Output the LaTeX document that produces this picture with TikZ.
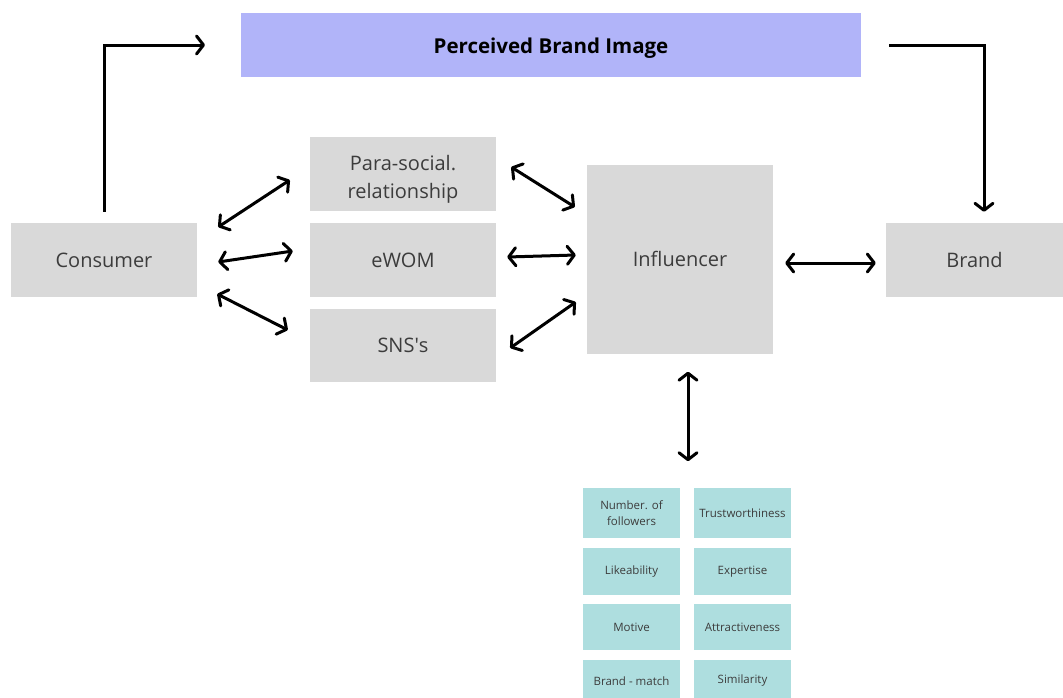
\documentclass[tikz,border=0pt]{standalone}
\usepackage{fontspec}
\setmainfont{Open Sans}
\usetikzlibrary{arrows.meta,calc}
\definecolor{boxgray}{HTML}{D9D9D9}
\definecolor{imagebar}{HTML}{B1B4F9}
\definecolor{attrteal}{HTML}{AEDEDF}
\definecolor{labelgray}{HTML}{3C3C3C}
\tikzset{
  greybox/.style={fill=boxgray, minimum width=186pt, minimum height=74pt, inner sep=0pt,
    align=center, text=labelgray, font=\fontsize{20}{28}\selectfont,
    text height=14pt, text depth=0pt},
  greytext/.style={inner sep=0pt, align=center, text=labelgray, font=\fontsize{20}{28}\selectfont},
  attrbox/.style={fill=attrteal, minimum width=97pt, inner sep=0pt,
    align=center, text=labelgray, font=\fontsize{11.5}{16}\selectfont},
  link/.style={line width=3pt, line cap=round, line join=round,
    arrows={Straight Barb[length=7pt,width=18pt,round]-Straight Barb[length=7pt,width=18pt,round]}},
  onelink/.style={line width=3pt, line join=miter,
    -{Straight Barb[length=7pt,width=18pt,round]}}
}
\begin{document}
\begin{tikzpicture}[x=1pt,y=-1pt]
\useasboundingbox (0,0) rectangle (1063,697);
\clip (0,0) rectangle (1063,697);
\fill[white] (0,0) rectangle (1063,697);

% header bar
\fill[imagebar] (241,13) rectangle (861,77);
\node[inner sep=0pt, font=\fontsize{20.5}{24}\selectfont\bfseries] (pbi) at (551,48)
  {Perceived Brand Image};

% main boxes
\node[greybox] (con) at (104,260) {Consumer};
\node[greybox] (para) at (403,174) {};
\node[greytext] (paratext) at (403,179) {Para-social.\\relationship};
\node[greybox] (ewom) at (403,260) {eWOM};
\node[greybox, minimum height=73pt] (sns) at (403,345.5) {SNS\textquotesingle s};
\node[greybox, minimum height=189pt] (inf) at (680,259.5) {Influencer};
\node[greybox, minimum width=177pt] (brand) at (974.5,260) {Brand};

% influencer attributes
\node[attrbox, minimum height=50pt] (a1) at (631.5,513) {Number. of\\followers};
\node[attrbox, minimum height=50pt] (b1) at (742.5,513) {Trustworthiness};
\node[attrbox, minimum height=47pt] (a2) at (631.5,571.5) {Likeability};
\node[attrbox, minimum height=47pt] (b2) at (742.5,571.5) {Expertise};
\node[attrbox, minimum height=46pt] (a3) at (631.5,627) {Motive};
\node[attrbox, minimum height=46pt] (b3) at (742.5,627) {Attractiveness};
\node[attrbox, minimum height=42pt] (a4) at (631.5,681) {Brand - match};
\node[attrbox, minimum height=42pt] (b4) at (742.5,681) {Similarity};

% connectors
\draw[onelink] ($(con.north)+(0,-11)$) |- (205,45);
\draw[onelink] (889,45) -| ($(brand.north)+(9.5,-11)$);

\draw[link] ($(con.east)+(21,-33)$) -- ($(para.west)+(-20,6)$);
\draw[link] ($(con.east)+(21,2)$) -- ($(ewom.west)+(-17,-9)$);
\draw[link] ($(con.east)+(20,34)$) -- ($(sns.west)+(-22,-15.5)$);

\draw[link] ($(para.east)+(15,-7)$) -- ($(inf.west)+(-12,-52.5)$);
\draw[link] ($(ewom.east)+(11,-3)$) -- ($(inf.west)+(-11,-4.5)$);
\draw[link] ($(sns.east)+(14,2.5)$) -- ($(inf.west)+(-11,42.5)$);

\draw[link] ($(inf.east)+(12,3.5)$) -- ($(brand.west)+(-10,3)$);
\draw[link] ($(inf.south)+(8,17.5)$) -- ($(inf.south)+(8,107)$);
\end{tikzpicture}
\end{document}
